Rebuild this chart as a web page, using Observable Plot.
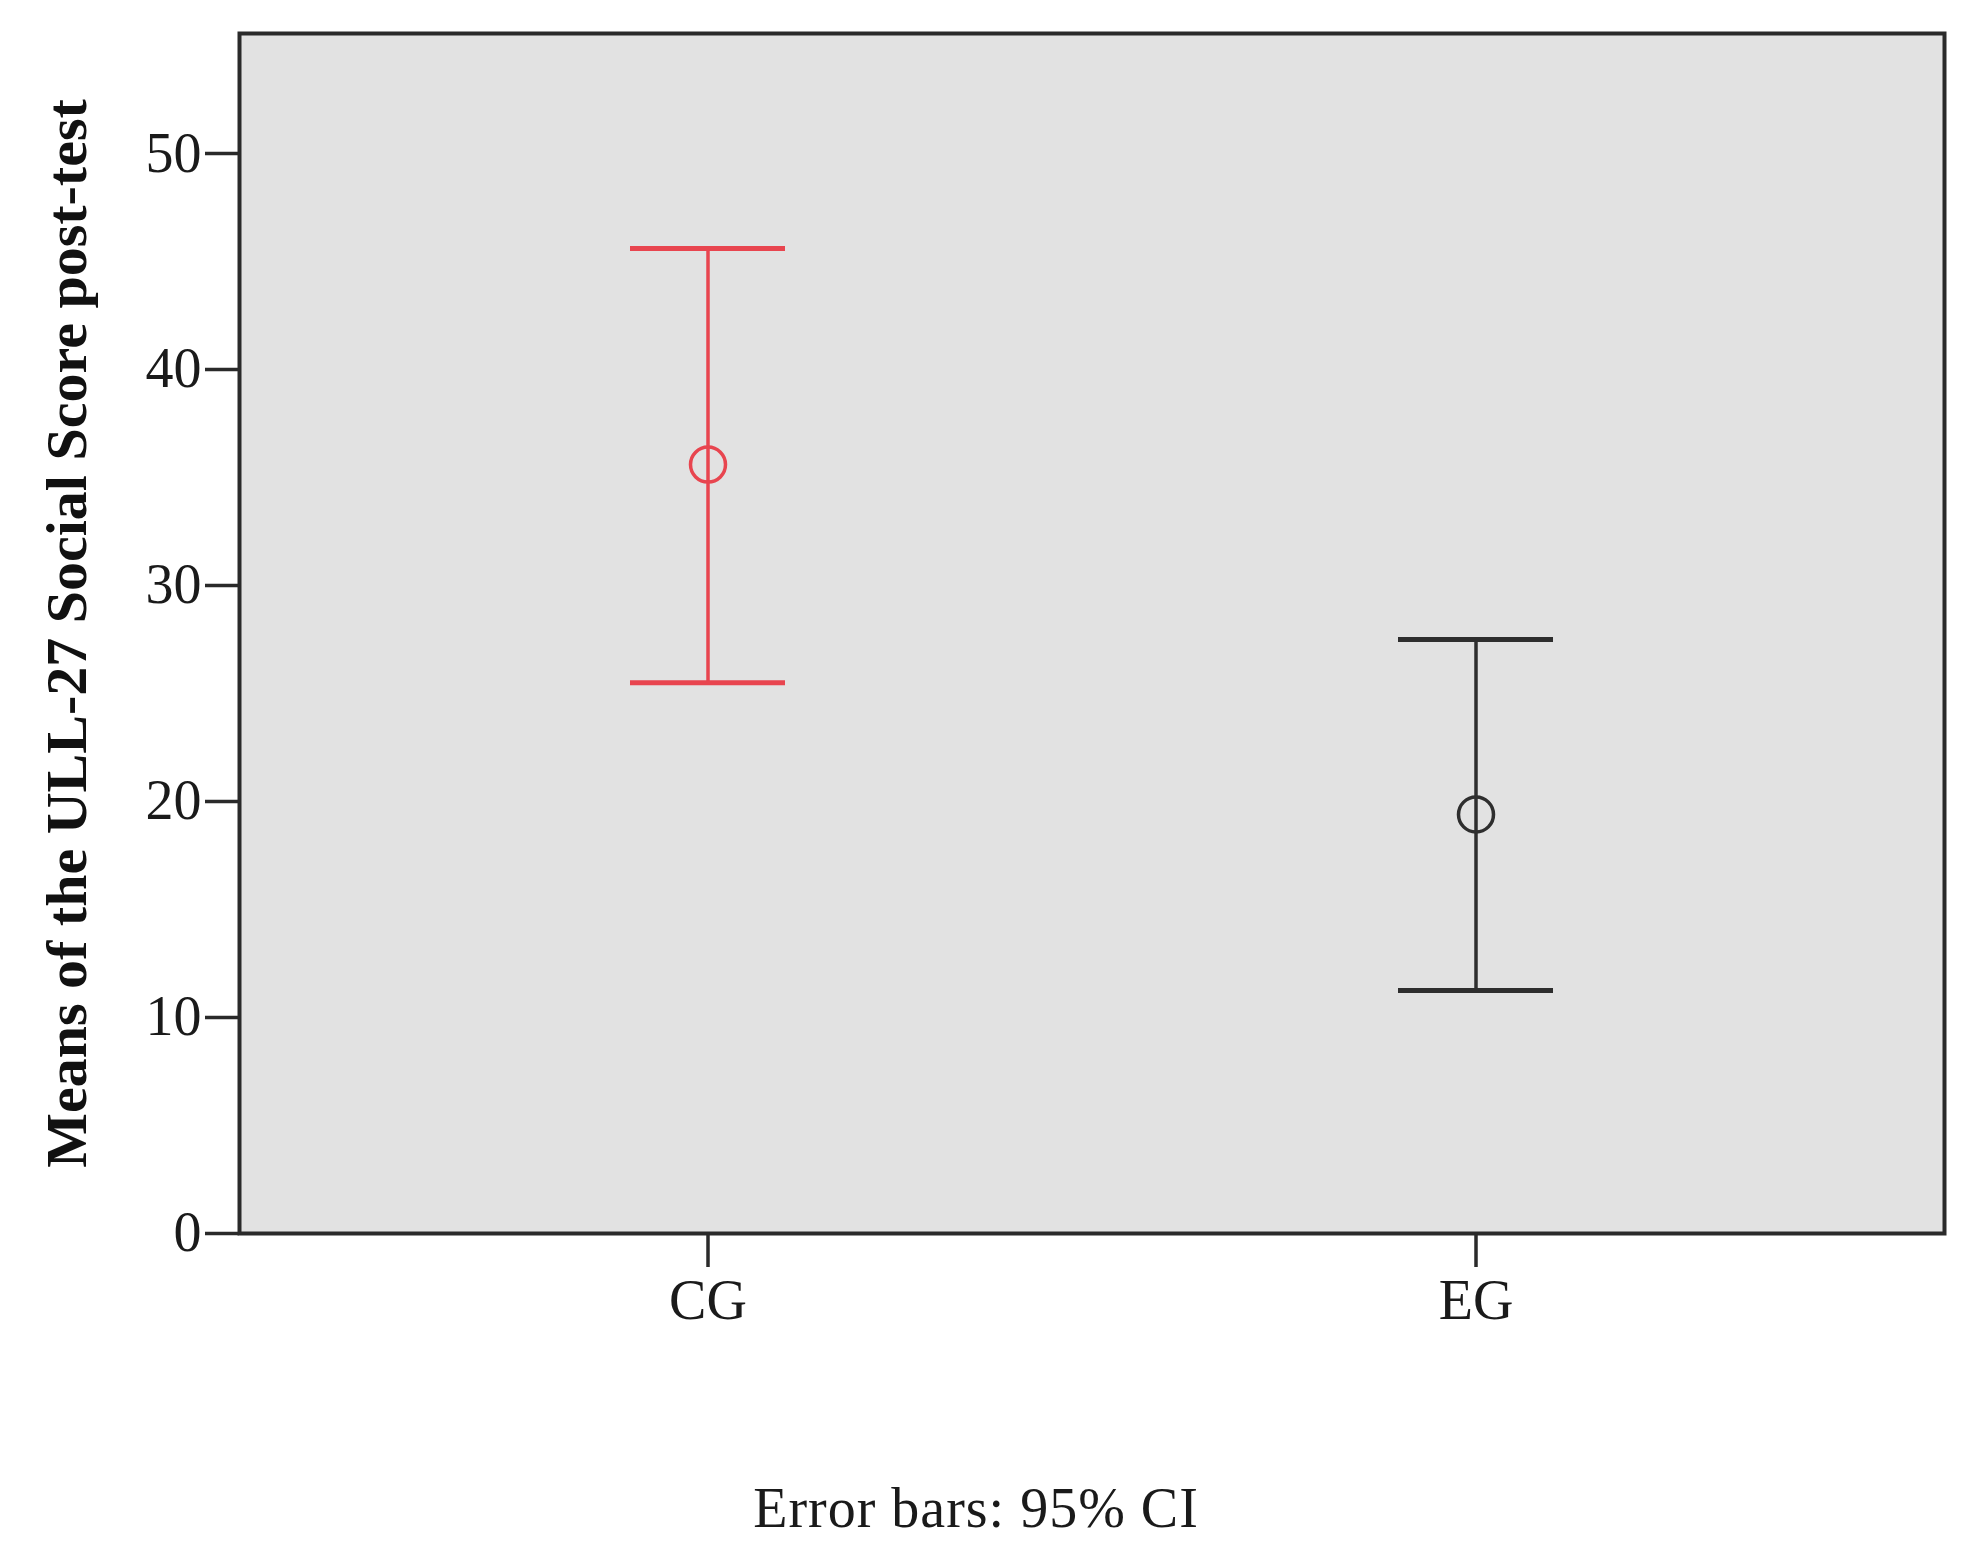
<!DOCTYPE html>
<html>
<head>
<meta charset="utf-8">
<script src="https://cdn.jsdelivr.net/npm/d3@7"></script>
<script src="https://cdn.jsdelivr.net/npm/@observablehq/plot@0.6"></script>
<style>
  html, body { margin: 0; padding: 0; background: #fff; }
  #wrap { position: relative; width: 1976px; height: 1564px; }
  #caption {
    position: absolute; left: 0; top: 1480px; width: 1952px;
    text-align: center; font-family: "Liberation Serif", serif;
    font-size: 56px; line-height: 56px; color: #1a1a1a; letter-spacing: 1px;
  }
</style>
</head>
<body>
<div id="wrap"><div id="chart"></div><div id="caption"></div></div>
<script>
const groups = ["CG", "EG"];
const means = [35.6, 19.4];
const lower = [25.5, 11.25];
const upper = [45.6, 27.5];
const colors = ["#e8454f", "#2e2e2e"];
const yTicks = [0, 10, 20, 30, 40, 50];
const yTitle = "Means of the ULL-27 Social Score post-test";
const captionText = "Error bars: 95% CI";

const rows = groups.map((g, i) => ({group: g, mean: means[i], lo: lower[i], hi: upper[i], color: colors[i]}));

const chart = Plot.plot({
  width: 1976,
  height: 1400,
  marginLeft: 239,
  marginRight: 32,
  marginTop: 33,
  marginBottom: 167,
  style: {fontFamily: "Liberation Serif, serif", fontSize: "56px", color: "#1a1a1a", background: "#fff"},
  x: {type: "band", domain: groups, paddingInner: 0.798, paddingOuter: 0.509, label: null},
  y: {domain: [0, 55.56], label: null},
  marks: [
    Plot.frame({fill: "#e2e2e2", stroke: "none"}),
    Plot.ruleX(rows, {x: "group", y1: "lo", y2: "hi", stroke: "color", strokeWidth: 3.5}),
    Plot.tickY(rows, {x: "group", y: "hi", stroke: "color", strokeWidth: 5}),
    Plot.tickY(rows, {x: "group", y: "lo", stroke: "color", strokeWidth: 5}),
    Plot.dot(rows, {x: "group", y: "mean", r: 17.5, stroke: "color", strokeWidth: 3.5, fill: "none"}),
    Plot.frame({stroke: "#2a2a2a", strokeWidth: 4}),
    Plot.axisY({ticks: yTicks, tickSize: 34, tickPadding: 4, stroke: "#2a2a2a", strokeWidth: 3.5, strokeOpacity: 1, fill: "#1a1a1a", label: null}),
    Plot.axisX({tickSize: 34, tickPadding: 12, stroke: "#2a2a2a", strokeWidth: 3.5, strokeOpacity: 1, fill: "#1a1a1a", label: null}),
    Plot.text([yTitle], {frameAnchor: "left", rotate: -90, dx: -172, text: d => d, fontSize: 58, fontWeight: "bold", fill: "#111", textAnchor: "middle", lineAnchor: "middle"})
  ]
});
document.getElementById("chart").appendChild(chart);
document.getElementById("caption").textContent = captionText;
</script>
</body>
</html>
